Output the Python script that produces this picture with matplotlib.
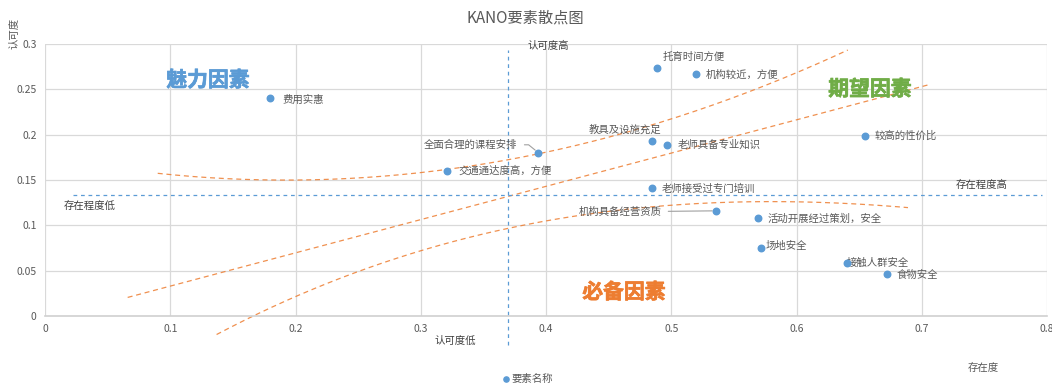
import matplotlib
matplotlib.use("Agg")
import matplotlib.pyplot as plt
import matplotlib.patheffects as pe
import numpy as np

plt.rcParams["font.family"] = ["Noto Sans CJK SC", "DejaVu Sans"]

# Factores KANO: existencia (x) y reconocimiento (y)
factores = ["费用实惠", "托育时间方便", "机构较近，方便", "教具及设施充足", "老师具备专业知识",
            "全面合理的课程安排", "交通通达度高，方便", "较高的性价比", "老师接受过专门培训",
            "机构具备经营资质", "活动开展经过策划，安全", "场地安全", "接触人群安全", "食物安全"]
existencia = [0.180, 0.489, 0.520, 0.485, 0.497, 0.394, 0.321, 0.655, 0.485,
              0.536, 0.569, 0.572, 0.640, 0.672]
reconocimiento = [0.240, 0.273, 0.267, 0.193, 0.189, 0.180, 0.160, 0.199, 0.141,
                  0.116, 0.108, 0.075, 0.058, 0.046]

# Medias (lineas de referencia)
media_x = 0.37
media_y = 0.134

curva_sup_x = [0.090, 0.170, 0.250, 0.347, 0.501, 0.641]
curva_sup_y = [0.157, 0.151, 0.151, 0.169, 0.216, 0.294]
linea_med_x = [0.066, 0.200, 0.705]
linea_med_y = [0.021, 0.069, 0.255]
curva_inf_x = [0.137, 0.200, 0.299, 0.369, 0.435, 0.499, 0.555, 0.689]
curva_inf_y = [-0.019, 0.019, 0.071, 0.098, 0.115, 0.120, 0.125, 0.120]

x_ticks = [0, 0.1, 0.2, 0.3, 0.4, 0.5, 0.6, 0.7, 0.8]
x_tick_labels = ["0", "0.1", "0.2", "0.3", "0.4", "0.5", "0.6", "0.7", "0.8"]
y_ticks = [0, 0.05, 0.1, 0.15, 0.2, 0.25, 0.3]
y_tick_labels = ["0", "0.05", "0.1", "0.15", "0.2", "0.25", "0.3"]

# Desplazamiento de etiquetas en pixeles: (dx, dy, ha)
LABEL_OFFSETS = {
    "费用实惠": (12, -1, "left"),
    "托育时间方便": (5, 12, "left"),
    "机构较近，方便": (9, -1, "left"),
    "教具及设施充足": (-28, 11, "center"),
    "老师具备专业知识": (10, 0, "left"),
    "全面合理的课程安排": (-21, 8, "right"),
    "交通通达度高，方便": (11, 0, "left"),
    "较高的性价比": (9, 0, "left"),
    "老师接受过专门培训": (9, -1, "left"),
    "机构具备经营资质": (-55, -1, "right"),
    "活动开展经过策划，安全": (10, -1, "left"),
    "场地安全": (4, 2, "left"),
    "接触人群安全": (0, 1, "left"),
    "食物安全": (10, -1, "left"),
}
# Estilo de conector para etiquetas con linea guia
LEADERS = {
    "全面合理的课程安排": "angle,angleA=0,angleB=141,rad=0",
    "机构具备经营资质": "arc3,rad=0",
}

W, H = 1052, 383
GRIS = "#595959"
AZUL = "#5b9bd5"
NARANJA = "#ed7d31"


def fig_xy(px, py):
    return px / W, 1 - py / H


fig = plt.figure(figsize=(W / 100, H / 100), dpi=100)
ax = fig.add_axes([45 / W, 67 / H, 1002 / W, 272 / H])
ax.set_xlim(0, 0.8)
ax.set_ylim(0, 0.3)
ax.set_xticks(x_ticks, x_tick_labels)
ax.set_yticks(y_ticks, y_tick_labels)
ax.tick_params(length=0, labelsize=7.5, labelcolor=GRIS, pad=6)
ax.grid(True, color="#d9d9d9", linewidth=0.9, zorder=0)
for side in ("top", "right", "left"):
    ax.spines[side].set_visible(False)
ax.spines["bottom"].set_color("#d0d0d0")
ax.spines["bottom"].set_linewidth(1.2)
ax.set_axisbelow(True)

# Curvas divisorias naranjas
for cx, cy, deg in ((curva_sup_x, curva_sup_y, 2),
                    (linea_med_x, linea_med_y, 1),
                    (curva_inf_x, curva_inf_y, 3)):
    coef = np.polyfit(cx, cy, deg)
    xs = np.linspace(min(cx), max(cx), 200)
    ax.plot(xs, np.polyval(coef, xs), color=NARANJA, lw=0.9, alpha=0.85,
            dashes=(4, 3), clip_on=False, zorder=2)

# Lineas de media azules
ax.plot([media_x, media_x], [-0.032, 0.293], color=AZUL, lw=0.9,
        dashes=(3, 3), clip_on=False, zorder=2)
ax.plot([0.022, 0.796], [media_y, media_y], color=AZUL, lw=0.9,
        dashes=(3, 3), clip_on=False, zorder=2)

sc = ax.scatter(existencia, reconocimiento, s=22, color=AZUL, zorder=4, label="要素名称")

for nombre, x, y in zip(factores, existencia, reconocimiento):
    dx, dy, ha = LABEL_OFFSETS[nombre]
    arrow = None
    if nombre in LEADERS:
        arrow = dict(arrowstyle="-", color="#a0a0a0", lw=0.8, shrinkA=3, shrinkB=3,
                     connectionstyle=LEADERS[nombre])
    ax.annotate(nombre, (x, y), xytext=(dx, dy), textcoords="offset pixels",
                ha=ha, va="center", fontsize=7.5, color=GRIS, arrowprops=arrow)

# Titulo y textos de referencia
fig.text(*fig_xy(525, 18), "KANO要素散点图", ha="center", va="center",
         fontsize=11, color=GRIS)
fig.text(*fig_xy(548, 46), "认可度高", ha="center", va="center", fontsize=7.5, color="#404040")
fig.text(*fig_xy(455, 341), "认可度低", ha="center", va="center", fontsize=7.5, color="#404040")
fig.text(*fig_xy(90, 206), "存在程度低", ha="center", va="center", fontsize=7.5, color="#404040")
fig.text(*fig_xy(982, 185), "存在程度高", ha="center", va="center", fontsize=7.5, color="#404040")
fig.text(*fig_xy(983, 368), "存在度", ha="center", va="center", fontsize=7.5, color=GRIS)
fig.text(*fig_xy(15, 33), "认可度", ha="center", va="center", fontsize=7.5,
         color=GRIS, rotation=90)

# Etiquetas de cuadrante
for (px, py), txt, col in (((208, 80), "魅力因素", AZUL),
                           ((870, 89), "期望因素", "#70ad47"),
                           ((624, 292), "必备因素", NARANJA)):
    fig.text(*fig_xy(px, py), txt, ha="center", va="center", fontsize=15,
             fontweight="bold", color=col,
             path_effects=[pe.withStroke(linewidth=0.5, foreground=col)])

fig.legend(handles=[sc], loc="center", bbox_to_anchor=fig_xy(527, 379),
           frameon=False, fontsize=7.5, labelcolor=GRIS, handletextpad=0.0,
           handlelength=1.0, markerscale=0.8, borderaxespad=0)

fig.savefig("out.png", dpi=100)
